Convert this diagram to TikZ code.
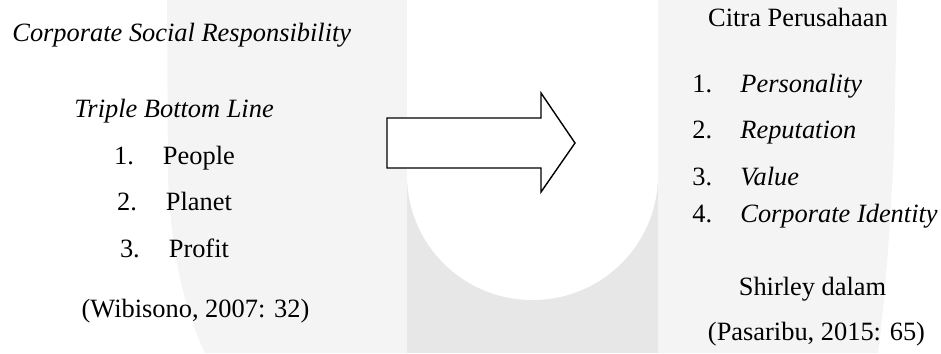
\documentclass[tikz,border=0pt]{standalone}
\usepackage{fontspec}
\setmainfont{Liberation Serif}
\usetikzlibrary{positioning}

\definecolor{wmlight}{RGB}{244,244,244}
\definecolor{wmdark}{RGB}{231,231,231}

\begin{document}
\begin{tikzpicture}[
    x=0.5pt, y=-0.5pt,
    txt/.style={inner sep=0pt, font=\fontsize{13.2}{16}\selectfont},
    itxt/.style={txt, font=\fontsize{13.2}{16}\selectfont\itshape},
    blockarrow/.style={draw=black, line width=0.7pt, fill=white, line join=miter},
]

\useasboundingbox (0,0) rectangle (941,353);

% ===================== WATERMARK =====================
\fill[wmlight] (167,0) -- (407,0) -- (407,353) -- (205,353)
    .. controls (185,310) and (172,260) .. (168,180) -- cycle;
\fill[wmlight] (658,0) -- (897,0) -- (894,150)
    .. controls (890,230) and (885,300) .. (878,353) -- (658,353) -- cycle;
\fill[wmdark] (407,0) rectangle (658,353);
\fill[white] (407,0) -- (407,175)
    .. controls (407,244) and (463,300) .. (532.5,300)
    .. controls (602,300) and (658,244) .. (658,175) -- (658,0) -- cycle;

% ===================== LEFT: CSR =====================
\node[itxt, anchor=base west] (csr) at (12,42) {Corporate Social Responsibility};
\node[itxt, anchor=base] (tbl) at (174,118) {Triple Bottom Line};

\foreach \i/\t/\y in {1/People/164, 2/Planet/210, 3/Profit/257} {
    \node[txt, anchor=base] (tbl\i) at (174.5,\y) {\i.\hspace{14.5pt}\t};
}

\node[txt, anchor=base] (wib) at (195.5,317) {(Wibisono, 2007: 32)};

% ===================== ARROW =====================
\coordinate (arr) at (387,143);
\draw[blockarrow] (arr) ++(0,-25) -- ++(154,0) -- ++(0,-25) -- (575,143)
    -- (541,192) -- ++(0,-24) -- ++(-154,0) -- cycle;

% ===================== RIGHT: CITRA =====================
\node[txt, anchor=base] (citra) at (798,27) {Citra Perusahaan};

\foreach \i/\t/\y in {1/Personality/93, 2/Reputation/138, 3/Value/185, 4/Corporate Identity/222} {
    \node[txt, anchor=base west] (num\i) at (692,\y) {\i.};
    \node[itxt, anchor=base west] (cit\i) at (740,\y) {\t};
}

\node[txt, anchor=base] (shir) at (812.5,295) {Shirley dalam};
\node[txt, anchor=base] (pas) at (816.5,340) {(Pasaribu, 2015: 65)};

\end{tikzpicture}
\end{document}
